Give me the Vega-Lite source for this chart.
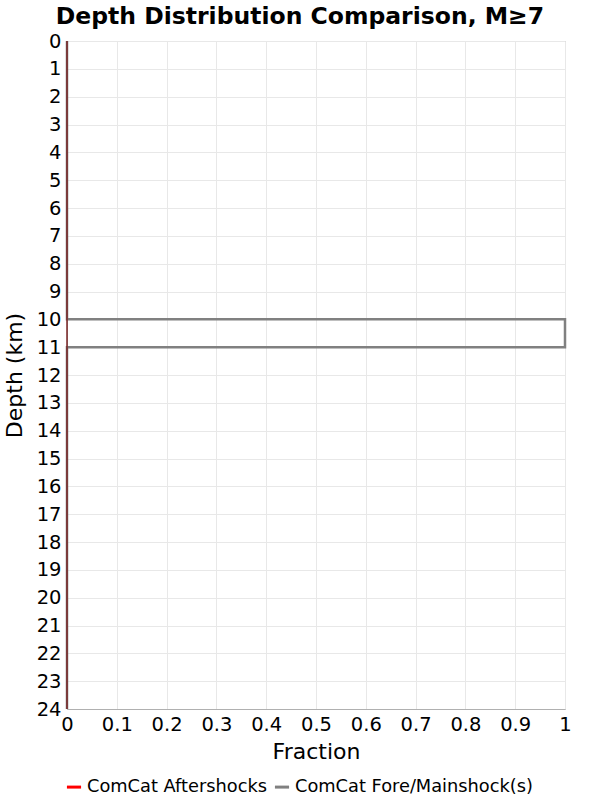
{
  "$schema": "https://vega.github.io/schema/vega-lite/v6.json",
  "width": 498,
  "height": 668,
  "autosize": "none",
  "padding": {"left": 67, "top": 41, "right": 35, "bottom": 91},
  "background": "white",
  "title": {
    "text": "Depth Distribution Comparison, M≥7",
    "font": "DejaVu Sans",
    "fontSize": 23.5,
    "fontWeight": "bold",
    "color": "black",
    "anchor": "middle",
    "dx": -16,
    "offset": 3
  },
  "config": {
    "font": "DejaVu Sans",
    "view": {"stroke": "#b0b0b0", "strokeWidth": 1},
    "axis": {
      "labelFont": "DejaVu Sans",
      "titleFont": "DejaVu Sans",
      "labelFontSize": 19.5,
      "titleFontSize": 22,
      "titleFontWeight": "normal",
      "labelColor": "black",
      "titleColor": "black",
      "gridColor": "#e8e8e8",
      "domainColor": "#b0b0b0",
      "tickSize": 0,
      "labelPadding": 6
    }
  },
  "data": {
    "values": [
      {"series": "ComCat Aftershocks", "depth": 0, "fraction": 0, "ord": 1},
      {"series": "ComCat Aftershocks", "depth": 24, "fraction": 0, "ord": 2},
      {"series": "ComCat Fore/Mainshock(s)", "depth": 0, "fraction": 0, "ord": 1},
      {"series": "ComCat Fore/Mainshock(s)", "depth": 10, "fraction": 0, "ord": 2},
      {"series": "ComCat Fore/Mainshock(s)", "depth": 10, "fraction": 1, "ord": 3},
      {"series": "ComCat Fore/Mainshock(s)", "depth": 11, "fraction": 1, "ord": 4},
      {"series": "ComCat Fore/Mainshock(s)", "depth": 11, "fraction": 0, "ord": 5},
      {"series": "ComCat Fore/Mainshock(s)", "depth": 24, "fraction": 0, "ord": 6}
    ]
  },
  "encoding": {
    "x": {
      "field": "fraction",
      "type": "quantitative",
      "scale": {"domain": [0, 1], "nice": false},
      "axis": {"title": "Fraction", "values": [0, 0.1, 0.2, 0.3, 0.4, 0.5, 0.6, 0.7, 0.8, 0.9, 1], "format": "~g", "titlePadding": 8, "labelFlush": false}
    },
    "y": {
      "field": "depth",
      "type": "quantitative",
      "scale": {"domain": [0, 24], "reverse": true, "nice": false},
      "axis": {"title": "Depth (km)", "values": [0,1,2,3,4,5,6,7,8,9,10,11,12,13,14,15,16,17,18,19,20,21,22,23,24], "titlePadding": 10, "labelFlush": false}
    },
    "color": {
      "field": "series",
      "type": "nominal",
      "scale": {"domain": ["ComCat Aftershocks", "ComCat Fore/Mainshock(s)"], "range": ["#ff0000", "#808080"]},
      "legend": {
        "title": null,
        "orient": "none",
        "direction": "horizontal",
        "legendX": -2,
        "legendY": 737,
        "labelFontSize": 17.8,
        "labelFont": "DejaVu Sans",
        "labelColor": "black",
        "labelLimit": 0,
        "symbolType": "stroke",
        "symbolStrokeWidth": 3,
        "symbolSize": 200,
        "columnPadding": 1,
        "labelOffset": 4
      }
    },
    "order": {"field": "ord", "type": "quantitative"}
  },
  "layer": [
    {
      "transform": [{"filter": "datum.series === 'ComCat Fore/Mainshock(s)'"}],
      "mark": {"type": "line", "strokeWidth": 2.5, "clip": false}
    },
    {
      "transform": [{"filter": "datum.series === 'ComCat Aftershocks'"}],
      "mark": {"type": "line", "strokeWidth": 1.5, "clip": false},
      "encoding": {"stroke": {"value": "#7a2424"}}
    }
  ]
}
